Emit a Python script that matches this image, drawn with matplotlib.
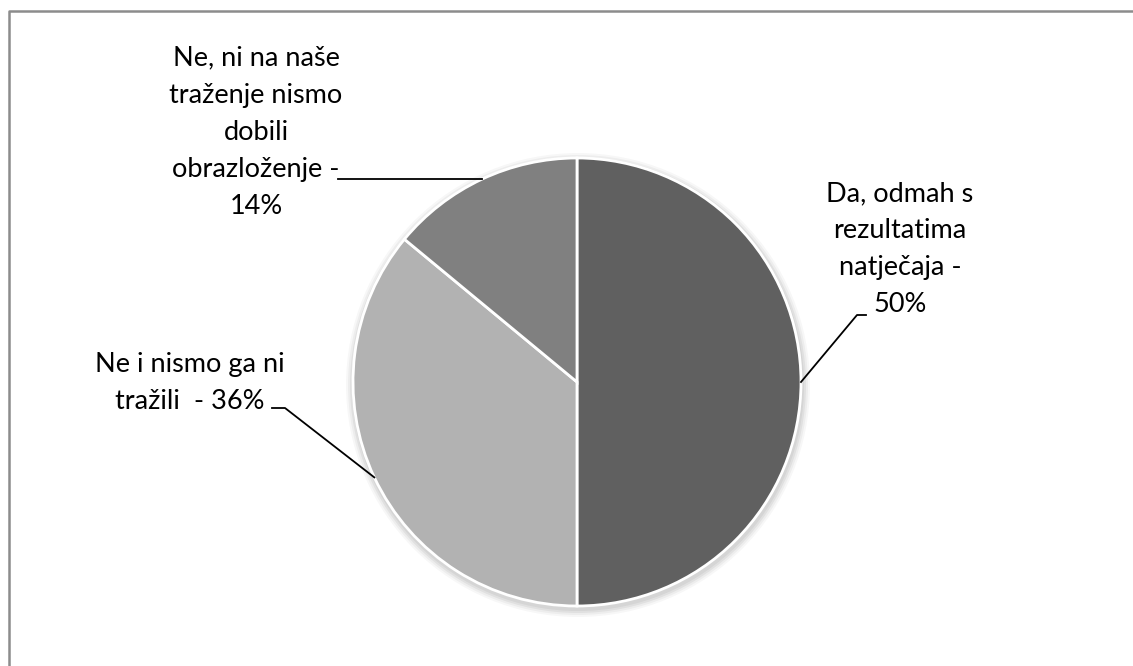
import matplotlib.pyplot as plt
import numpy as np

labels = ['Da, odmah s\nrezultatima\nnatječaja -\n50%',
          'Ne i nismo ga ni\ntražili  - 36%',
          'Ne, ni na naše\ntraženje nismo\ndobili\nobrazloženje -\n14%']
values = [50, 36, 14]
colors = ['#606060', '#b2b2b2', '#808080']

W, H = 1133, 666
fig = plt.figure(figsize=(W / 100, H / 100), dpi=100)
ax = fig.add_axes([0, 0, 1, 1])

cx, cy, r = 577, H - 382, 224

# soft shadow
for k, a in enumerate([0.05, 0.05, 0.04, 0.03]):
    ax.add_patch(plt.Circle((cx + 1, cy - 3), r + 2 + k * 2, color='black', alpha=a, lw=0, zorder=0))

wedges, _ = ax.pie(values, colors=colors, startangle=90, counterclock=False,
                   center=(cx, cy), radius=r, frame=True,
                   wedgeprops=dict(edgecolor='white', linewidth=2))
ax.set_xlim(0, W)
ax.set_ylim(0, H)
ax.set_aspect('equal')
ax.axis('off')

font = dict(family='Lato', fontsize=19.5, color='black', ha='center', va='center',
            linespacing=1.6)

# label centres and leader elbows (layout)
label_pos = [(900, H - 249), (190, H - 383), (256, H - 132)]
elbows = [[(857, H - 315), (866, H - 315)],
          [(285, H - 408), (272, H - 408)],
          [(338, None)]]

for i, w in enumerate(wedges):
    ang = np.deg2rad((w.theta1 + w.theta2) / 2)
    px, py = cx + r * np.cos(ang), cy + r * np.sin(ang)
    xs = [px] + [e[0] for e in elbows[i]]
    ys = [py] + [py if e[1] is None else e[1] for e in elbows[i]]
    ax.plot(xs, ys, color='black', lw=1.3, zorder=3)
    ax.text(*label_pos[i], labels[i], **font)

# chart frame
ax.plot([9, 9, W + 5], [-5, H - 11, H - 11], color='#8c8c8c', lw=1.8, clip_on=False)

fig.savefig('out.png', dpi=100, facecolor='white')
